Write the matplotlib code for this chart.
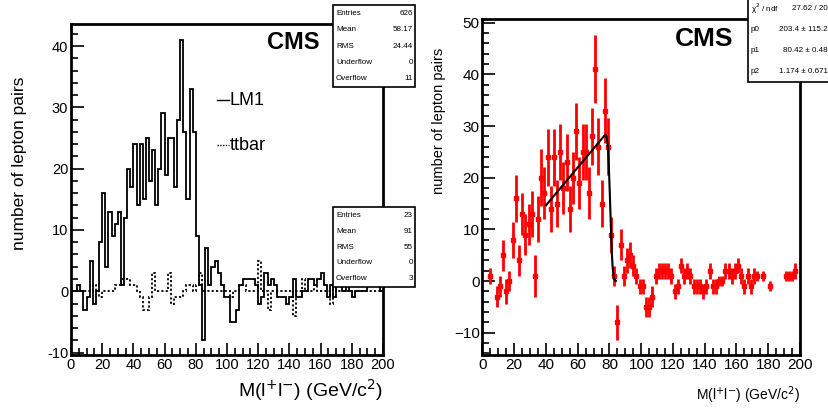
import numpy as np
import matplotlib.pyplot as plt
from matplotlib.patches import Rectangle
from matplotlib.ticker import MultipleLocator
from math import erfc, sqrt

plt.rcParams['font.family'] = ['Liberation Sans', 'DejaVu Sans']

# bin lower edges 0..198, width 2
edges = np.arange(0, 202, 2)
lm1 = [0, 0, 1, 0, -3, -1, 5, -2, 0, 8,
       16, 4, 13, 9, 11, 13, 1, 12, 20, 17,
       24, 14, 24, 15, 25, 18, 23, 14, 20, 29,
       19, 25, 25, 17, 28, 41, 26, 15, 33, 26,
       9, 1, -8, 7, 1, 4, 5, 3, 1, -1,
       -1, -5, -5, -3, 1, 2, 2, 2, 2, 1,
       -2, -1, 3, 1, 2, 1, -1, -1, -1, -2,
       -1, 2, -1, -1, 0, 0, 2, 2, 1, 2,
       3, 1, -1, 1, -1, 1, 1, 0, 1, 0,
       -1, 0, 0, 0, 0, 1, 1, 1, 2, 0]
lm1_err = [0, 0, 1.5, 0, 2, 2, 3, 2.5, 2, 3.5,
           4.5, 3, 4, 4, 4, 4.5, 4, 4.5, 5.5, 5,
           5.5, 4.5, 5.5, 4.5, 5.5, 5, 5.5, 4.5, 5, 5.5,
           5, 5.5, 5.5, 5, 5.5, 6.6, 5.5, 4.5, 6.3, 5.5,
           3.5, 2, 3.4, 3, 2, 2.5, 2.5, 2, 1.5, 1.5,
           1.5, 2, 2, 2, 1.5, 1.5, 1.5, 1.5, 1.5, 1.5,
           1.5, 1.5, 1.5, 1.5, 1.5, 1.5, 1.5, 1.5, 1.5, 1.5,
           1.5, 1.5, 1.5, 1.5, 1, 1, 1.5, 1.5, 1.5, 1.5,
           1.5, 1.5, 1.5, 1.5, 1.5, 1.5, 1, 0, 1, 0,
           1, 0, 0, 0, 0, 1, 1, 1, 1.5, 0]
ttbar = [0, 0, 0, 0, 0, 0, 0, 1, 0, -1,
         0, 0, 0, 0, 1, 1, 2, 2, 2, 1,
         1, 0, -1, -3, -3, -1, 3, 0, 0, 0,
         0, 3, -2, -1, -1, -1, 0, 1, 1, 0,
         1, 3, 0, 0, 0, 0, 0, 0, 0, 0,
         0, -1, 0, 0, 1, 1, 0, 0, 0, 0,
         5, 0, 0, -3, 0, 0, 0, 0, 0, 0,
         0, -4, 0, 0, 2, 0, 0, 0, 1, 0,
         0, 0, 0, -2, 1, 0, 0, 0, 0, 0,
         -1, 0, 0, 0, 0, 0, 0, 0, 0, 0]

stats_lm1 = [("Entries", "626"), ("Mean", "58.17"), ("RMS", "24.44"),
             ("Underflow", "0"), ("Overflow", "11")]
stats_tt = [("Entries", "23"), ("Mean", "91"), ("RMS", "55"),
            ("Underflow", "0"), ("Overflow", "3")]
stats_fit = [("\u03c7$^{2}$ / ndf", "27.62 / 20"), ("p0", "203.4 \u00b1 115.2"),
             ("p1", "80.42 \u00b1 0.48"), ("p2", "1.174 \u00b1 0.671")]

# fit: linear rise up to the edge p1, smeared with width p2
p1, p2 = 80.42, 1.174
slope = 0.367
fit_x = np.linspace(40, 84, 200)
fit_y = [slope * m * 0.5 * erfc((m - p1) / (sqrt(2) * p2)) for m in fit_x]

W, H = 829, 411
fig = plt.figure(figsize=(W / 100, H / 100), dpi=100)


def style_axes(ax, ylo, yhi, fs):
    ax.set_xlim(0, 200)
    ax.set_ylim(ylo, yhi)
    ax.xaxis.set_major_locator(MultipleLocator(20))
    ax.xaxis.set_minor_locator(MultipleLocator(5))
    ax.yaxis.set_major_locator(MultipleLocator(10))
    ax.yaxis.set_minor_locator(MultipleLocator(2))
    ax.tick_params(which='both', direction='in', top=False, right=False,
                   labelsize=fs, width=1.2, pad=2)
    ax.tick_params(which='major', length=9)
    ax.tick_params(which='minor', length=5)
    for s in ax.spines.values():
        s.set_linewidth(2)


def stat_box(x0, y0, x1, y1, rows, fs=5.8, vx=None):
    fig.add_artist(Rectangle((x0 / W, 1 - y1 / H), (x1 - x0) / W, (y1 - y0) / H,
                             transform=fig.transFigure, facecolor='white',
                             edgecolor='black', lw=1.2, zorder=10))
    if vx is None:
        vx = x1 - 2
    n = len(rows)
    for i, (k, v) in enumerate(rows):
        yy = y0 + (i + 0.5) * (y1 - y0) / n
        fig.text((x0 + 3) / W, 1 - yy / H, k, fontsize=fs, va='center',
                 ha='left', zorder=11)
        fig.text(vx / W, 1 - yy / H, v, fontsize=fs, va='center',
                 ha='right', zorder=11)


# left panel
ax1 = fig.add_axes([71 / W, 1 - 355 / H, (383 - 71) / W, (355 - 24) / H])
ax1.stairs(lm1, edges, color='black', lw=1.3)
ax1.stairs(ttbar, edges, color='black', lw=1.3, linestyle=(0, (1.2, 1.2)))
style_axes(ax1, -10.4, 43.6, 10.5)
ax1.set_yticks([-10, 0, 10, 20, 30, 40])
ax1.set_yticklabels(['-10', '0', '10', '20', '30', '40'])
ax1.set_ylabel('number of lepton pairs', fontsize=12.5)
ax1.yaxis.set_label_coords(-0.14, 0.58)
ax1.set_xlabel('M(l$^{+}$l$^{-}$) (GeV/c$^{2}$)', fontsize=14, loc='right', labelpad=4)
ax1.text(0.713, 0.943, 'CMS', transform=ax1.transAxes, fontsize=17,
         fontweight='bold', ha='center', va='center')
ax1.plot([0.469, 0.506], [0.770, 0.770], transform=ax1.transAxes, color='black', lw=1)
ax1.text(0.508, 0.770, 'LM1', transform=ax1.transAxes, fontsize=13, va='center')
ax1.plot([0.469, 0.506], [0.634, 0.634], transform=ax1.transAxes, color='black',
         lw=1, linestyle=(0, (1, 1)))
ax1.text(0.508, 0.634, 'ttbar', transform=ax1.transAxes, fontsize=13, va='center')

stat_box(333, 5, 415, 87, stats_lm1)
stat_box(333, 207, 415, 287, stats_tt)

# right panel
ax2 = fig.add_axes([482.5 / W, 1 - 355 / H, (800 - 482.5) / W, (355 - 18.7) / H])
centers = edges[:-1] + 1
vals = np.array(lm1, dtype=float)
errs = np.array(lm1_err, dtype=float)
keep = errs > 0
ax2.errorbar(centers[keep], vals[keep], yerr=errs[keep], xerr=1, fmt='s',
             color='#ff0000', ms=3.5, elinewidth=2, capsize=0, zorder=3)
ax2.plot(fit_x, fit_y, color='black', lw=1.5, zorder=4)
style_axes(ax2, -14.3, 50.8, 11)
ax2.set_ylabel('number of lepton pairs', fontsize=10.5)
ax2.yaxis.set_label_coords(-0.115, 0.696)
ax2.set_xlabel('M(l$^{+}$l$^{-}$) (GeV/c$^{2}$)', fontsize=10, loc='right', labelpad=9)
ax2.text(0.698, 0.940, 'CMS', transform=ax2.transAxes, fontsize=19,
         fontweight='bold', ha='center', va='center')
stat_box(748, -2, 835, 82, stats_fit, vx=828)

fig.savefig('out.png', dpi=100)
